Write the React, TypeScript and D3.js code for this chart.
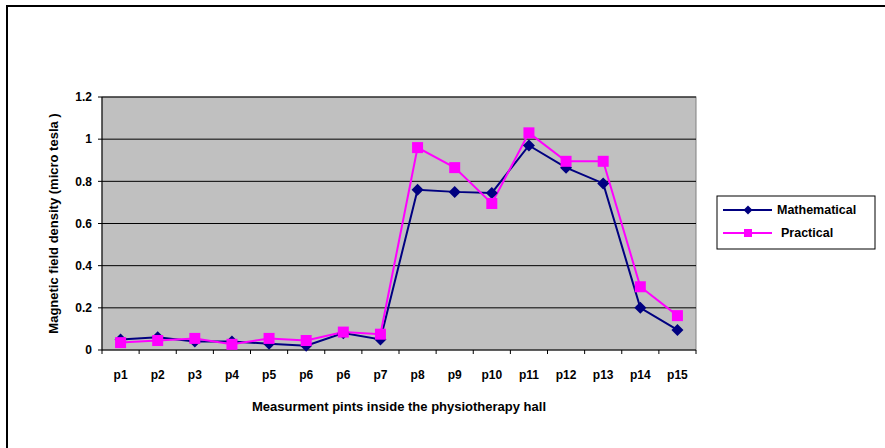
import React from "react";
import * as d3 from "d3";

const categories = ["p1", "p2", "p3", "p4", "p5", "p6", "p6", "p7", "p8", "p9", "p10", "p11", "p12", "p13", "p14", "p15"];
const mathematical = [0.05, 0.06, 0.04, 0.04, 0.03, 0.02, 0.08, 0.05, 0.76, 0.75, 0.745, 0.97, 0.865, 0.79, 0.2, 0.095];
const practical = [0.035, 0.045, 0.055, 0.027, 0.055, 0.045, 0.085, 0.075, 0.96, 0.865, 0.695, 1.03, 0.895, 0.895, 0.3, 0.163];
const yTicks = [0, 0.2, 0.4, 0.6, 0.8, 1, 1.2];

const W = 885;
const H = 448;
const plot = { left: 102, right: 696, top: 97, bottom: 350 };
const font = "'Liberation Sans', Arial, sans-serif";

const App: React.FC = () => {
  // indices as band keys since "p6" appears twice
  const x = d3
    .scaleBand<number>()
    .domain(categories.map((_, i) => i))
    .range([plot.left, plot.right]);
  const y = d3.scaleLinear().domain([0, 1.2]).range([plot.bottom, plot.top]);
  const cx = (i: number) => (x(i) ?? 0) + x.bandwidth() / 2;

  const line = d3
    .line<number>()
    .x((_, i) => cx(i))
    .y((d) => y(d));

  const diamond = (px: number, py: number, r: number) =>
    `M${px},${py - r}L${px + r},${py}L${px},${py + r}L${px - r},${py}Z`;

  const boundaries = d3.range(categories.length + 1).map((i) => plot.left + i * x.step());

  return (
    <div style={{ position: "fixed", left: 0, top: 0 }}>
      <svg width={W} height={H} style={{ display: "block", background: "#fff" }}>
        {/* outer chart border */}
        <rect x={7} y={6} width={W + 10} height={H + 10} fill="none" stroke="#000" strokeWidth={2} />

        {/* plot area */}
        <rect
          x={plot.left}
          y={plot.top}
          width={plot.right - plot.left}
          height={plot.bottom - plot.top}
          fill="#C0C0C0"
          stroke="#808080"
          strokeWidth={1}
        />
        {yTicks.map((t) => (
          <g key={t}>
            {t > 0 && (
              <line x1={plot.left} x2={plot.right} y1={y(t)} y2={y(t)} stroke="#000" strokeWidth={1} />
            )}
            <line x1={plot.left - 4} x2={plot.left} y1={y(t)} y2={y(t)} stroke="#000" strokeWidth={1} />
            <text
              x={plot.left - 10}
              y={y(t)}
              dy="0.35em"
              textAnchor="end"
              fontFamily={font}
              fontWeight="bold"
              fontSize={12}
            >
              {t}
            </text>
          </g>
        ))}

        {/* axes */}
        <line x1={plot.left} x2={plot.left} y1={plot.top} y2={plot.bottom} stroke="#000" strokeWidth={1} />
        <line x1={plot.left} x2={plot.right} y1={plot.bottom} y2={plot.bottom} stroke="#000" strokeWidth={1} />
        {boundaries.map((bx, i) => (
          <line key={i} x1={bx} x2={bx} y1={plot.bottom} y2={plot.bottom + 4} stroke="#000" strokeWidth={1} />
        ))}
        {categories.map((c, i) => (
          <text
            key={i}
            x={cx(i)}
            y={375}
            dy="0.35em"
            textAnchor="middle"
            fontFamily={font}
            fontWeight="bold"
            fontSize={12}
          >
            {c}
          </text>
        ))}

        {/* axis titles */}
        <text
          x={(plot.left + plot.right) / 2}
          y={406}
          dy="0.35em"
          textAnchor="middle"
          fontFamily={font}
          fontWeight="bold"
          fontSize={13}
        >
          Measurment pints inside the physiotherapy hall
        </text>
        <text
          transform={`translate(53,${(plot.top + plot.bottom) / 2}) rotate(-90)`}
          dy="0.35em"
          textAnchor="middle"
          fontFamily={font}
          fontWeight="bold"
          fontSize={13}
        >
          Magnetic field density (micro tesla )
        </text>

        {/* series */}
        <path d={line(mathematical) ?? ""} fill="none" stroke="#000080" strokeWidth={2} />
        <path d={line(practical) ?? ""} fill="none" stroke="#FF00FF" strokeWidth={2} />
        {mathematical.map((v, i) => (
          <path key={`m${i}`} d={diamond(cx(i), y(v), 6)} fill="#000080" />
        ))}
        {practical.map((v, i) => (
          <rect key={`p${i}`} x={cx(i) - 5.5} y={y(v) - 5.5} width={11} height={11} fill="#FF00FF" />
        ))}

        {/* legend */}
        <rect x={717} y={196} width={158} height={53} fill="#fff" stroke="#000" strokeWidth={1} />
        <line x1={723} x2={772} y1={210} y2={210} stroke="#000080" strokeWidth={2} />
        <path d={diamond(748, 210, 4.5)} fill="#000080" />
        <text x={777} y={210} dy="0.35em" fontFamily={font} fontWeight="bold" fontSize={12.5}>
          Mathematical
        </text>
        <line x1={723} x2={772} y1={233} y2={233} stroke="#FF00FF" strokeWidth={2} />
        <rect x={744} y={229} width={8} height={8} fill="#FF00FF" />
        <text x={781} y={233} dy="0.35em" fontFamily={font} fontWeight="bold" fontSize={12.5}>
          Practical
        </text>
      </svg>
    </div>
  );
};

export default App;
